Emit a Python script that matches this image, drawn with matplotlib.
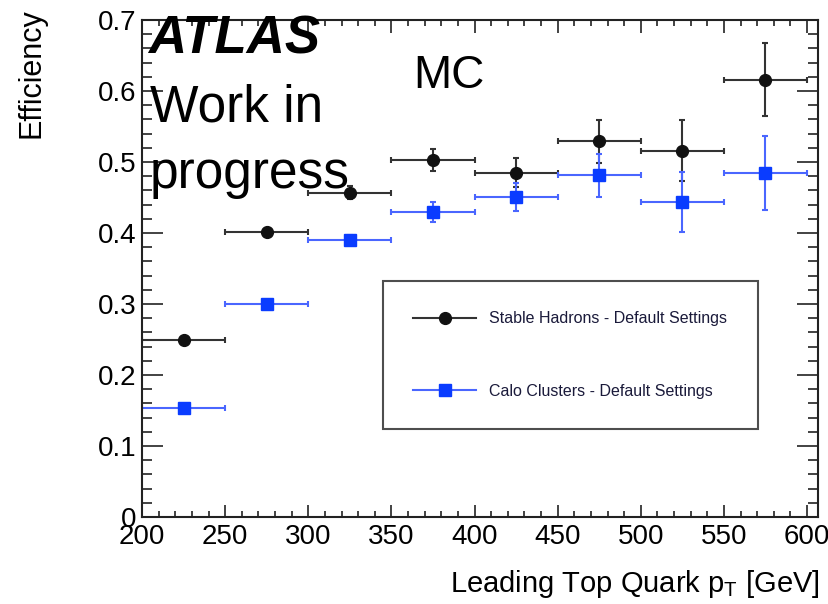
import numpy as np
import matplotlib
matplotlib.use("Agg")
import matplotlib.pyplot as plt
from matplotlib.lines import Line2D

plt.rcParams["font.family"] = ["Liberation Sans", "DejaVu Sans"]
plt.rcParams["mathtext.fontset"] = "custom"
plt.rcParams["mathtext.rm"] = "Liberation Sans"
plt.rcParams["mathtext.it"] = "Liberation Sans:italic"

# pT bins (GeV), 50 GeV wide
bin_lo = [200, 250, 300, 350, 400, 450, 500, 550]
bin_hi = [250, 300, 350, 400, 450, 500, 550, 600]

hadrons_eff = [0.249, 0.402, 0.457, 0.503, 0.485, 0.529, 0.516, 0.616]
hadrons_err = [0.004, 0.005, 0.009, 0.016, 0.020, 0.030, 0.043, 0.051]

clusters_eff = [0.153, 0.300, 0.390, 0.429, 0.451, 0.481, 0.444, 0.484]
clusters_err = [0.004, 0.005, 0.007, 0.014, 0.020, 0.030, 0.042, 0.052]

labels = ["Stable Hadrons - Default Settings", "Calo Clusters - Default Settings"]

W, H = 829, 604
fig = plt.figure(figsize=(W / 100, H / 100), dpi=100)
ax = fig.add_axes([142 / W, 1 - 517 / H, (818 - 142) / W, (517 - 20) / H])

lo = np.array(bin_lo, dtype=float)
hi = np.array(bin_hi, dtype=float)
centres = 0.5 * (lo + hi)
half = 0.5 * (hi - lo)

black = "#111111"
blue = "#0a3cff"

ax.errorbar(centres, hadrons_eff, xerr=half, yerr=hadrons_err, fmt="o",
            color=black, ecolor="#333333", ms=8.5, elinewidth=1.5, capsize=2.5,
            capthick=1.5)
ax.errorbar(centres, clusters_eff, xerr=half, yerr=clusters_err, fmt="s",
            color=blue, ecolor="#4a66ff", ms=8, elinewidth=1.5, capsize=2.5,
            capthick=1.5)

# frame runs a little past the last bin edge
ax.set_xlim(200, 606.6)
ax.set_ylim(0, 0.7)
ax.set_xticks(np.arange(200, 601, 50))
ax.set_xticks(np.arange(200, 601, 10), minor=True)
ax.set_yticks(np.arange(0, 0.71, 0.1))
ax.set_yticks(np.arange(0, 0.701, 0.02), minor=True)
ax.set_yticklabels(["0", "0.1", "0.2", "0.3", "0.4", "0.5", "0.6", "0.7"])

for s in ax.spines.values():
    s.set_linewidth(1.5)
    s.set_color("#222222")

ax.tick_params(axis="both", which="both", direction="in", top=True, right=True,
               labelsize=20, colors="#222222", width=1.2)
ax.tick_params(axis="x", which="major", length=9, pad=5)
ax.tick_params(axis="x", which="minor", length=4.5)
ax.tick_params(axis="y", which="major", length=15, pad=4)
ax.tick_params(axis="y", which="minor", length=7)
for lab in ax.get_yticklabels() + ax.get_xticklabels():
    lab.set_color("black")

fig.text(32 / W, 1 - 8 / H, "Efficiency", rotation=90, ha="center", va="top",
         fontsize=22)
fig.text(820 / W, 1 - 592 / H, r"Leading Top Quark p$_{\mathrm{T}}$ [GeV]",
         ha="right", va="baseline", fontsize=21)

fig.text(148 / W, 1 - 53 / H, "ATLAS", fontsize=38, fontweight="bold",
         fontstyle="italic", va="baseline", ha="left")
fig.text(150 / W, 1 - 121 / H, "Work in", fontsize=37, va="baseline", ha="left")
fig.text(150 / W, 1 - 188 / H, "progress", fontsize=37, va="baseline", ha="left")
fig.text(413 / W, 1 - 88 / H, "MC", fontsize=33, va="baseline", ha="left")

handles = [
    Line2D([], [], color="#333333", lw=1.5, marker="o", ms=8.5,
           markerfacecolor=black, markeredgecolor=black),
    Line2D([], [], color="#4a66ff", lw=1.5, marker="s", ms=8,
           markerfacecolor=blue, markeredgecolor=blue),
]
leg = ax.legend(handles, labels, loc="upper left",
                bbox_to_anchor=(383 / W, 1 - 281 / H),
                bbox_transform=fig.transFigure, fontsize=11.5,
                frameon=True, fancybox=False, borderpad=1.9,
                labelspacing=3.6, handlelength=3.95, handletextpad=0.8,
                borderaxespad=0)
leg.get_frame().set_edgecolor("#222222")
leg.get_frame().set_linewidth(1.5)
for t in leg.get_texts():
    t.set_color("#1a1a3a")

fig.savefig("out.png", dpi=100)
